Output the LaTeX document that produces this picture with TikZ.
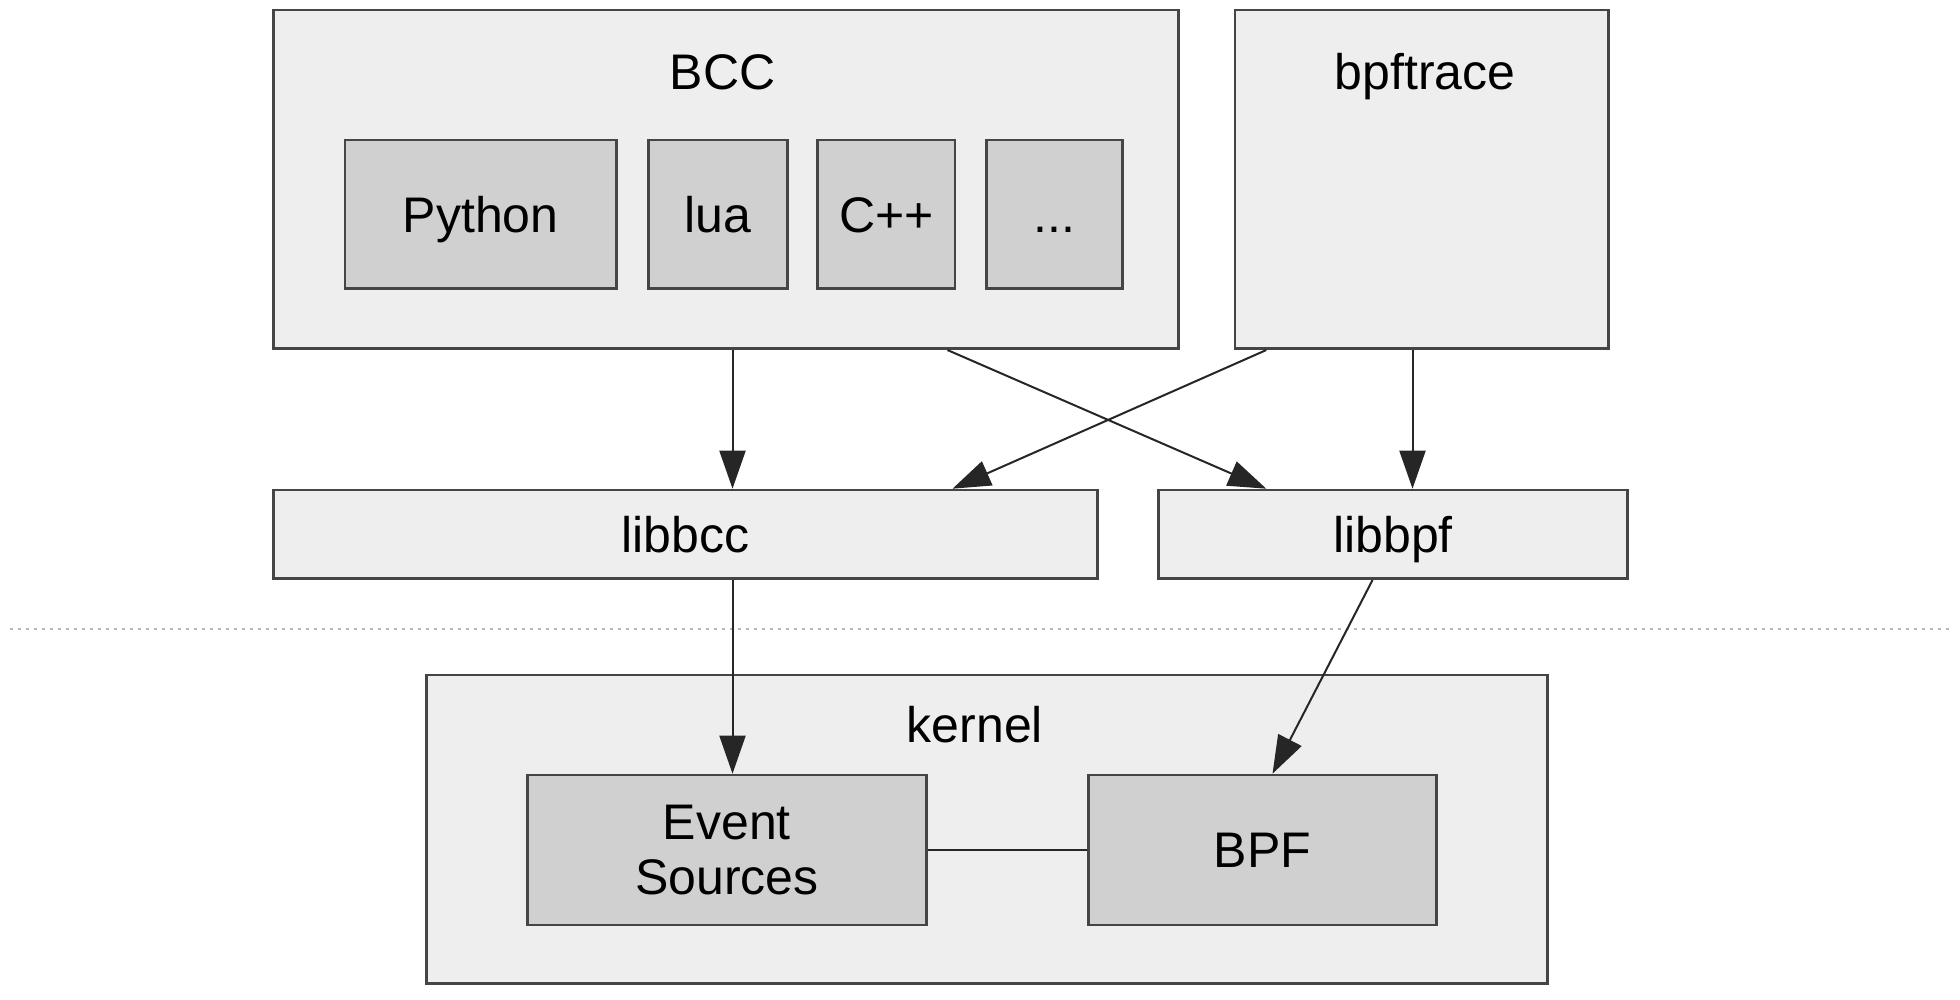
\documentclass[tikz,border=0pt]{standalone}
\usepackage{fontspec}
\setmainfont{Liberation Sans}
\usetikzlibrary{arrows.meta}
\definecolor{outerfill}{HTML}{EEEEEE}
\definecolor{innerfill}{HTML}{D0D0D0}
\definecolor{edge}{HTML}{454545}
\definecolor{dots}{HTML}{B8B8B8}
\begin{document}
\begin{tikzpicture}[x=0.625pt,y=-0.625pt,
  outerbox/.style={draw=edge,line width=1.3pt,fill=outerfill,inner sep=0pt},
  innerbox/.style={draw=edge,line width=1.3pt,fill=innerfill,inner sep=0pt,font=\fontsize{25}{27.5}\selectfont,align=center},
  capc/.style={text height=17.9pt,text depth=0pt},
  lbl/.style={font=\fontsize{25}{27.5}\selectfont,inner sep=0pt},
  arr/.style={draw=black!85,line width=1pt,-{Triangle[length=19pt,width=13pt]}},
  link/.style={draw=black!85,line width=1pt}]
\fill[white] (0,0) rectangle (1568,800);
\useasboundingbox (0,0) rectangle (1568,800);
% top boxes
\node[outerbox,minimum width=452.5pt,minimum height=169.375pt] (BCC) at (581,143.5) {};
\node[lbl,anchor=base] (bcclbl) at (578,72) {BCC};
\node[innerbox,capc,minimum width=135.625pt,minimum height=74.375pt] (python) at (384.5,171.5) {Python};
\node[innerbox,capc,minimum width=69.375pt,minimum height=74.375pt] (lua) at (574.5,171.5) {lua};
\node[innerbox,capc,minimum width=68.75pt,minimum height=74.375pt] (cpp) at (709,171.5) {C++};
\node[innerbox,capc,minimum width=68.125pt,minimum height=74.375pt] (more) at (843.5,171.5) {...};
\node[outerbox,minimum width=186.875pt,minimum height=169.375pt] (bpftrace) at (1137.5,143.5) {};
\node[lbl,anchor=base] (bpflbl) at (1140,72) {bpftrace};
% libraries
\node[outerbox,lbl,capc,draw=edge,minimum width=411.875pt,minimum height=44.375pt] (libbcc) at (548.5,427.5) {libbcc};
\node[outerbox,lbl,capc,draw=edge,minimum width=234.375pt,minimum height=44.375pt] (libbpf) at (1114.5,427.5) {libbpf};
% separator
\coordinate (sepL) at (8,503);
\coordinate (sepR) at (1562,503);
\draw[dots,line width=1.2pt,dash pattern=on 1.5pt off 2.5pt] (sepL) -- (sepR);
% kernel
\node[outerbox,minimum width=560.625pt,minimum height=154.375pt] (kernel) at (789.5,663.5) {};
\node[lbl,anchor=base] (kernlbl) at (780,594) {kernel};
\node[innerbox,minimum width=199.375pt,minimum height=75pt] (event) at (581.5,680) {Event\\Sources};
\node[innerbox,capc,minimum width=173.75pt,minimum height=75pt] (bpf) at (1010,680) {BPF};
% helper x positions
\coordinate (xa) at (586,0);
\coordinate (xb) at (758,0);
\coordinate (xc) at (1013,0);
\coordinate (xd) at (762,0);
\coordinate (xe) at (1130,0);
\coordinate (xf) at (1098,0);
\coordinate (xg) at (1018,0);
% connectors
\draw[arr] (BCC.south -| xa) -- (libbcc.north -| xa);
\draw[arr] (BCC.south -| xb) -- (libbpf.north -| xc);
\draw[arr] (bpftrace.south -| xc) -- (libbcc.north -| xd);
\draw[arr] (bpftrace.south -| xe) -- (libbpf.north -| xe);
\draw[arr] (libbcc.south -| xa) -- (event.north -| xa);
\draw[arr] (libbpf.south -| xf) -- (bpf.north -| xg);
\draw[link] (event.east) -- (bpf.west);
\end{tikzpicture}
\end{document}
